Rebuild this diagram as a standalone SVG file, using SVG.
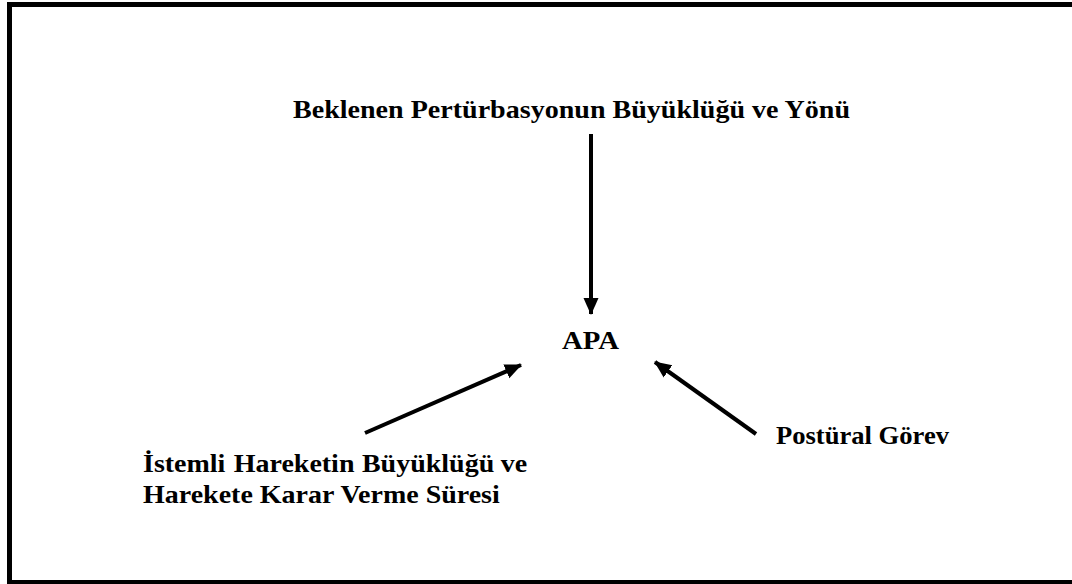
<svg xmlns="http://www.w3.org/2000/svg" width="1072" height="584" viewBox="0 0 1072 584">
<style>
  text { font-family: "Liberation Serif", "Times New Roman", serif; font-weight: bold; font-size: 25px; fill: #000; }
  .conn { stroke: #000; stroke-width: 4; fill: none; marker-end: url(#ah); }
</style>
<defs>
  <marker id="ah" markerUnits="userSpaceOnUse" markerWidth="17" markerHeight="17" viewBox="0 0 17 17" refX="16" refY="8.5" orient="auto">
    <path d="M0,1 L17,8.5 L0,16 Z" fill="#000"/>
  </marker>
</defs>
<rect x="0" y="0" width="1072" height="584" fill="#fff"/>
<rect x="9.5" y="4.5" width="1080" height="578" fill="none" stroke="#000" stroke-width="5"/>
<g id="connectors">
  <line class="conn" x1="591" y1="134" x2="591" y2="314"/>
  <line class="conn" x1="365" y1="433" x2="521" y2="365"/>
  <line class="conn" x1="756" y1="434" x2="655" y2="362"/>
</g>
<g id="node-perturbation">
  <text x="293" y="118" textLength="557" lengthAdjust="spacingAndGlyphs">Beklenen Pertürbasyonun Büyüklüğü ve Yönü</text>
</g>
<g id="node-apa">
  <text x="562" y="349" textLength="57" lengthAdjust="spacingAndGlyphs">APA</text>
</g>
<g id="node-postural">
  <text x="776" y="444" textLength="173" lengthAdjust="spacingAndGlyphs">Postüral Görev</text>
</g>
<g id="node-voluntary" transform="translate(143,0) scale(1.12,1) translate(-143,0)">
  <text y="472"><tspan x="143">İstemli</tspan> <tspan x="224">Hareketin</tspan> <tspan x="338.5">Büyüklüğü</tspan> <tspan x="486" text-anchor="end">ve</tspan></text>
  <text x="143" y="503">Harekete Karar Verme Süresi</text>
</g>
</svg>
